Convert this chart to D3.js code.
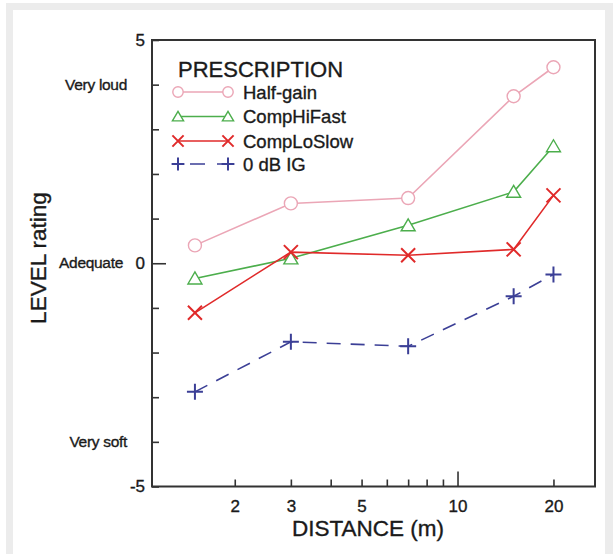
<!DOCTYPE html>
<html>
<head>
<meta charset="utf-8">
<script src="https://cdn.jsdelivr.net/npm/d3@7"></script>
<style>
  body { margin: 0; background: #fff; }
  svg { display: block; font-family: "Liberation Sans", Arial, sans-serif; }
  .lbl { fill: #1a1a1a; stroke: #1a1a1a; stroke-width: 0.35px; }
</style>
</head>
<body>
<svg id="chart" width="613" height="554"></svg>
<script>
// distances (m) where ratings were taken
var distances = [1.5, 3, 7, 15, 20];
// mean LEVEL ratings per prescription
var halfGain   = [0.40, 1.34, 1.46, 3.74, 4.39];
var compHiFast = [-0.34, 0.11, 0.85, 1.60, 2.62];
var compLoSlow = [-1.11, 0.25, 0.18, 0.31, 1.52];
var zeroDbIG   = [-2.88, -1.76, -1.86, -0.74, -0.25];

var seriesNames = ["Half-gain", "CompHiFast", "CompLoSlow", "0 dB IG"];
var xTickValues = [2, 3, 4, 5, 6, 7, 8, 9, 10, 20];
var xTickLabels = [2, 3, 5, 10, 20];
var yTickValues = [-5, -4, -3, -2, -1, 0, 1, 2, 3, 4, 5];
var yTickLabels = [-5, 0, 5];
var yCategories = [[4, "Very loud"], [0, "Adequate"], [-4, "Very soft"]];

var svg = d3.select("#chart");

// grey page border like the scanned figure
svg.append("rect").attr("x", 6).attr("y", 3).attr("width", 607).attr("height", 551).attr("fill", "#ececec");
svg.append("rect").attr("x", 13).attr("y", 10).attr("width", 592).attr("height", 544).attr("fill", "#fff");

var x = d3.scaleLog().domain([1.1, 27]).range([152, 595]);
var y = d3.scaleLinear().domain([-5, 5]).range([486.5, 40]);

var series = [
  {name: seriesNames[0], values: halfGain,   color: "#eba6b6", marker: "circle"},
  {name: seriesNames[1], values: compHiFast, color: "#4cae4c", marker: "triangle"},
  {name: seriesNames[2], values: compLoSlow, color: "#e02a2a", marker: "cross"},
  {name: seriesNames[3], values: zeroDbIG,   color: "#3b3f96", marker: "plus", dash: "14,10"}
];

// x axis, ticks pointing into the plot
var xAxis = d3.axisBottom(x)
  .tickValues(xTickValues)
  .tickSize(-7)
  .tickPadding(13)
  .tickFormat(function(d) { return xTickLabels.indexOf(d) >= 0 ? d : ""; });

var gx = svg.append("g")
  .attr("transform", "translate(0," + y(-5) + ")")
  .call(xAxis);
gx.select(".domain").remove();
gx.selectAll(".tick line").attr("stroke", "#333").attr("stroke-width", 1.6)
  .attr("y2", function(d) { return d == 10 ? -15 : -7; });
gx.selectAll(".tick text").attr("class", "lbl").attr("font-size", 17)
  .attr("font-family", "Liberation Sans, Arial, sans-serif");

var yAxis = d3.axisLeft(y)
  .tickValues(yTickValues)
  .tickSize(-7)
  .tickPadding(7)
  .tickFormat(function(d) { return yTickLabels.indexOf(d) >= 0 ? d : ""; });

var gy = svg.append("g")
  .attr("transform", "translate(" + x.range()[0] + ",0)")
  .call(yAxis);
gy.select(".domain").remove();
gy.selectAll(".tick line").attr("stroke", "#333").attr("stroke-width", 1.6)
  .attr("x2", function(d) { return d == 0 ? 14 : 7; });
gy.selectAll(".tick text").attr("class", "lbl").attr("font-size", 17)
  .attr("font-family", "Liberation Sans, Arial, sans-serif");

// frame
svg.append("rect")
  .attr("x", x.range()[0]).attr("y", y(5))
  .attr("width", x.range()[1] - x.range()[0])
  .attr("height", y(-5) - y(5))
  .attr("fill", "none").attr("stroke", "#333").attr("stroke-width", 2);

// verbal anchors on the rating scale
svg.selectAll(".cat")
  .data(yCategories)
  .enter().append("text")
  .attr("class", "cat lbl")
  .attr("x", function(d) { return d[0] == 0 ? 123 : 127; })
  .attr("y", function(d) { return y(d[0]) + 5; })
  .attr("text-anchor", "end")
  .attr("font-size", 15.5)
  .attr("letter-spacing", -0.3)
  .text(function(d) { return d[1]; });

svg.append("text")
  .attr("class", "lbl")
  .attr("transform", "translate(46,258) rotate(-90)")
  .attr("text-anchor", "middle")
  .attr("font-size", 22.5)
  .text("LEVEL rating");

svg.append("text")
  .attr("class", "lbl")
  .attr("x", 368).attr("y", 536)
  .attr("text-anchor", "middle")
  .attr("font-size", 22.5)
  .text("DISTANCE (m)");

function drawMarker(g, type, color, k) {
  k = k || 1;
  if (type == "circle") {
    g.append("circle").attr("r", 6.5 * k).attr("fill", "#fff").attr("stroke", color).attr("stroke-width", 1.4);
  } else if (type == "triangle") {
    g.append("path").attr("d", d3.line()([[0, -6.5 * k], [7 * k, 5.5 * k], [-7 * k, 5.5 * k]]) + "Z")
      .attr("fill", "#fff").attr("stroke", color).attr("stroke-width", 1.4);
  } else if (type == "cross") {
    g.append("path").attr("d", "M" + (-7 * k) + "," + (-7 * k) + "L" + (7 * k) + "," + (7 * k) +
      "M" + (-7 * k) + "," + (7 * k) + "L" + (7 * k) + "," + (-7 * k))
      .attr("stroke", color).attr("stroke-width", 2);
  } else {
    g.append("path").attr("d", "M" + (-8 * k) + ",0L" + (8 * k) + ",0M0," + (-8 * k) + "L0," + (8 * k))
      .attr("stroke", color).attr("stroke-width", 2);
  }
}

var line = d3.line()
  .x(function(d, i) { return x(distances[i]); })
  .y(function(d) { return y(d); });

series.forEach(function(s) {
  svg.append("path")
    .datum(s.values)
    .attr("d", line)
    .attr("fill", "none")
    .attr("stroke", s.color)
    .attr("stroke-width", 1.6)
    .attr("stroke-dasharray", s.dash || null);

  s.values.forEach(function(v, i) {
    var g = svg.append("g").attr("transform", "translate(" + x(distances[i]) + "," + y(v) + ")");
    drawMarker(g, s.marker, s.color);
  });
});

// legend
var legend = svg.append("g");
legend.append("text")
  .attr("class", "lbl")
  .attr("x", 178).attr("y", 77)
  .attr("font-size", 22)
  .text("PRESCRIPTION");

var legendRows = [92, 116.5, 141, 164];
series.forEach(function(s, i) {
  var ly = legendRows[i];
  legend.append("line")
    .attr("x1", 178).attr("x2", 228).attr("y1", ly).attr("y2", ly)
    .attr("stroke", s.color).attr("stroke-width", 1.6)
    .attr("stroke-dasharray", s.dash ? "0,12,15,12,30" : null);
  [178, 228].forEach(function(lx) {
    var g = legend.append("g").attr("transform", "translate(" + lx + "," + ly + ")");
    drawMarker(g, s.marker, s.color, 0.8);
  });
  legend.append("text")
    .attr("class", "lbl")
    .attr("x", 243).attr("y", ly + 6.5)
    .attr("font-size", 18.5)
    .text(s.name);
});
</script>
</body>
</html>
